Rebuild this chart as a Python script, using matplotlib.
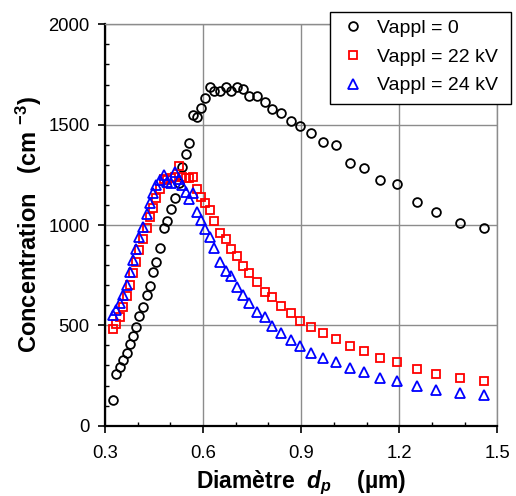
import matplotlib
matplotlib.use("Agg")
import matplotlib.pyplot as plt
from matplotlib.ticker import MultipleLocator
from matplotlib.patches import Rectangle

plt.rcParams['font.family'] = ['Liberation Sans', 'DejaVu Sans']
plt.rcParams['mathtext.fontset'] = 'custom'
plt.rcParams['mathtext.rm'] = 'Liberation Sans:bold'
plt.rcParams['mathtext.it'] = 'Liberation Sans:italic:bold'
plt.rcParams['mathtext.bf'] = 'Liberation Sans:bold'

diameter = [0.323, 0.334, 0.345, 0.356, 0.367, 0.378, 0.387, 0.396, 0.405, 0.415,
            0.427, 0.437, 0.447, 0.457, 0.468, 0.479, 0.490, 0.502, 0.513, 0.525,
            0.536, 0.547, 0.558, 0.569, 0.581, 0.593, 0.605, 0.620, 0.634, 0.652,
            0.670, 0.686, 0.703, 0.722, 0.740, 0.765, 0.788, 0.810, 0.837, 0.868,
            0.897, 0.930, 0.966, 1.006, 1.048, 1.093, 1.140, 1.194, 1.254, 1.313,
            1.385, 1.460]

conc_0kv = [128, 256, 291, 327, 364, 405, 448, 493, 547, 593,
            651, 696, 764, 817, 887, 983, 1021, 1080, 1133, 1210,
            1288, 1355, 1410, 1548, 1537, 1581, 1634, 1686, 1669, 1669,
            1686, 1669, 1686, 1676, 1643, 1644, 1614, 1578, 1556, 1520,
            1493, 1460, 1415, 1397, 1310, 1283, 1223, 1203, 1116, 1063,
            1011, 987]

conc_22kv = [480, 505, 543, 593, 648, 701, 760, 817, 875, 929,
             983, 1041, 1083, 1133, 1178, 1228, 1225, 1235, 1240, 1294,
             1240, 1233, 1235, 1241, 1178, 1140, 1110, 1075, 1020, 962,
             929, 880, 846, 796, 759, 716, 666, 643, 596, 563,
             522, 493, 460, 434, 399, 372, 336, 317, 284, 259,
             239, 223]

conc_24kv = [552, 577, 610, 651, 701, 767, 826, 879, 939, 992,
             1055, 1111, 1161, 1199, 1225, 1249, 1216, 1211, 1265, 1230,
             1199, 1166, 1128, 1161, 1066, 1025, 979, 942, 884, 817,
             772, 746, 693, 651, 610, 565, 540, 495, 460, 429,
             398, 364, 339, 319, 286, 268, 239, 221, 198, 178,
             161, 151]

labels = ['Vappl = 0', 'Vappl = 22 kV', 'Vappl = 24 kV']
x_ticks = [0.3, 0.6, 0.9, 1.2, 1.5]
y_ticks = [0, 500, 1000, 1500, 2000]

W, H = 516, 496
fig = plt.figure(figsize=(W / 100, H / 100), dpi=100)
ax = fig.add_axes([105 / W, 1 - 425.7 / H, (497.3 - 105) / W, (425.7 - 24.3) / H])

mew = 1.3
ax.plot(diameter, conc_0kv, linestyle='none', marker='o', markersize=6.3,
        markerfacecolor='none', markeredgecolor='black', markeredgewidth=mew,
        label=labels[0], zorder=3)
ax.plot(diameter, conc_22kv, linestyle='none', marker='s', markersize=6.0,
        markerfacecolor='none', markeredgecolor='#ff0000', markeredgewidth=mew,
        label=labels[1], zorder=3)
ax.plot(diameter, conc_24kv, linestyle='none', marker='^', markersize=7.6,
        markerfacecolor='none', markeredgecolor='#0000ff', markeredgewidth=mew,
        label=labels[2], zorder=3)

ax.set_xlim(0.3, 1.5)
ax.set_ylim(0, 2000)
ax.set_xticks(x_ticks)
ax.set_xticklabels([f'{v:.1f}' for v in x_ticks])
ax.set_yticks(y_ticks)
ax.xaxis.set_minor_locator(MultipleLocator(0.1))
ax.yaxis.set_minor_locator(MultipleLocator(100))
ax.grid(True, which='major', color='#8c8c8c', linewidth=1.0, zorder=0)
ax.set_axisbelow(True)

ax.tick_params(which='major', direction='out', length=5, width=1.2,
               labelsize=13.3, pad=6, colors='black')
ax.tick_params(axis='x', which='major', pad=9)
ax.tick_params(which='minor', direction='in', length=3, width=1.0)

for s in ['left', 'bottom']:
    ax.spines[s].set_linewidth(1.6)
    ax.spines[s].set_color('black')
for s in ['top', 'right']:
    ax.spines[s].set_linewidth(1.0)
    ax.spines[s].set_color('#8c8c8c')

ax.set_xlabel('Diamètre  $d_p$    (µm)', fontsize=16.5, fontweight='bold', labelpad=5)
ax.set_ylabel('Concentration   (cm $^{-3}$)', fontsize=17, fontweight='bold', labelpad=3)

# legend box drawn in figure pixels, legend entries on top of it
box = Rectangle((330 / W, 1 - 104 / H), 181 / W, 91.7 / H,
                transform=fig.transFigure, facecolor='white', edgecolor='black',
                linewidth=1.0, zorder=6, clip_on=False)
ax.add_patch(box)
leg = ax.legend(loc='upper left', bbox_to_anchor=(343.3 / W, 1 - 19.0 / H),
                bbox_transform=fig.transFigure, fontsize=14, frameon=False,
                borderpad=0.0, borderaxespad=0.0, labelspacing=0.58,
                handletextpad=0.74, handlelength=1.0)
leg.set_zorder(7)

fig.savefig('out.png', dpi=100)
